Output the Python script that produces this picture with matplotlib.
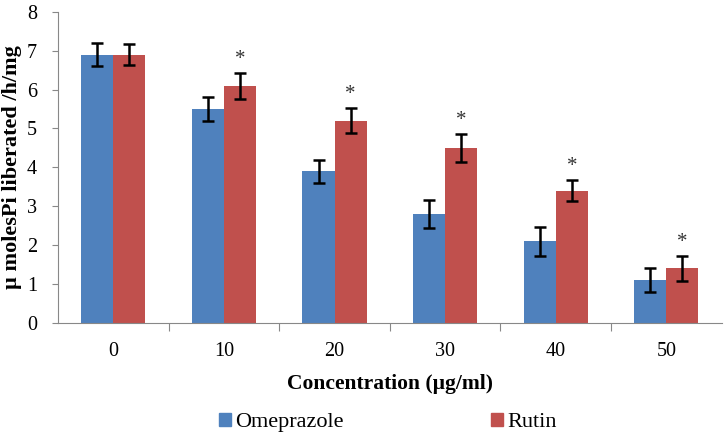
import numpy as np
import matplotlib.pyplot as plt
from matplotlib.patches import Patch

# data
conc = ['0', '10', '20', '30', '40', '50']
omeprazole = [6.9, 5.5, 3.9, 2.8, 2.1, 1.1]
omeprazole_err = [0.3, 0.3, 0.3, 0.35, 0.37, 0.3]
rutin = [6.9, 6.1, 5.2, 4.5, 3.4, 1.4]
rutin_err = [0.28, 0.33, 0.32, 0.36, 0.27, 0.32]
signif = [False, True, True, True, True, True]

plt.rcParams['font.family'] = ['Liberation Serif', 'DejaVu Serif']

fig = plt.figure(figsize=(7.26, 4.37), dpi=100)
ax = fig.add_axes([0.080, 0.261, 0.914, 0.712])

x = np.arange(len(conc))
w = 0.29
blue = '#4F81BD'
red = '#C0504D'
ekw = dict(ecolor='black', capsize=4, elinewidth=1.8, capthick=1.8)
ax.bar(x - w / 2, omeprazole, w, color=blue, yerr=omeprazole_err, error_kw=ekw)
ax.bar(x + w / 2, rutin, w, color=red, yerr=rutin_err, error_kw=ekw)

# significance stars
for i in range(len(conc)):
    if signif[i]:
        ax.text(x[i] + w / 2, rutin[i] + rutin_err[i] + 0.1, '*', ha='center', va='bottom',
                fontsize=15, color='#333333')

ax.set_xlim(-0.5, len(conc) - 0.5)
ax.set_ylim(0, 8)
ax.set_yticks(range(0, 9))
ax.tick_params(axis='y', labelsize=14.5, length=4, color='#888888', pad=11)

# category labels between the tick marks
ax.set_xticks(np.arange(0.5, len(conc) - 0.5, 1.0))
ax.set_xticklabels([])
ax.set_xticks(x, minor=True)
ax.set_xticklabels(conc, minor=True, fontsize=14.5)
ax.tick_params(axis='x', which='major', length=6, color='#888888', direction='out')
ax.tick_params(axis='x', which='minor', length=0, pad=14)

for s in ['top', 'right']:
    ax.spines[s].set_visible(False)
for s in ['left', 'bottom']:
    ax.spines[s].set_color('#888888')

ax.set_ylabel('µ molesPi liberated /h/mg', fontsize=16, fontweight='bold', labelpad=4)
ax.set_xlabel('Concentration (µg/ml)', fontsize=15.5, fontweight='bold', labelpad=9)

handles = [Patch(color=blue, label='Omeprazole'), Patch(color=red, label='Rutin')]
fig.legend(handles=handles, loc='center', bbox_to_anchor=(0.534, 0.033), ncol=2,
           frameon=False, fontsize=16, handlelength=0.55, handleheight=0.55,
           handletextpad=0.2, columnspacing=6.6)

fig.savefig('out.png', dpi=100)
